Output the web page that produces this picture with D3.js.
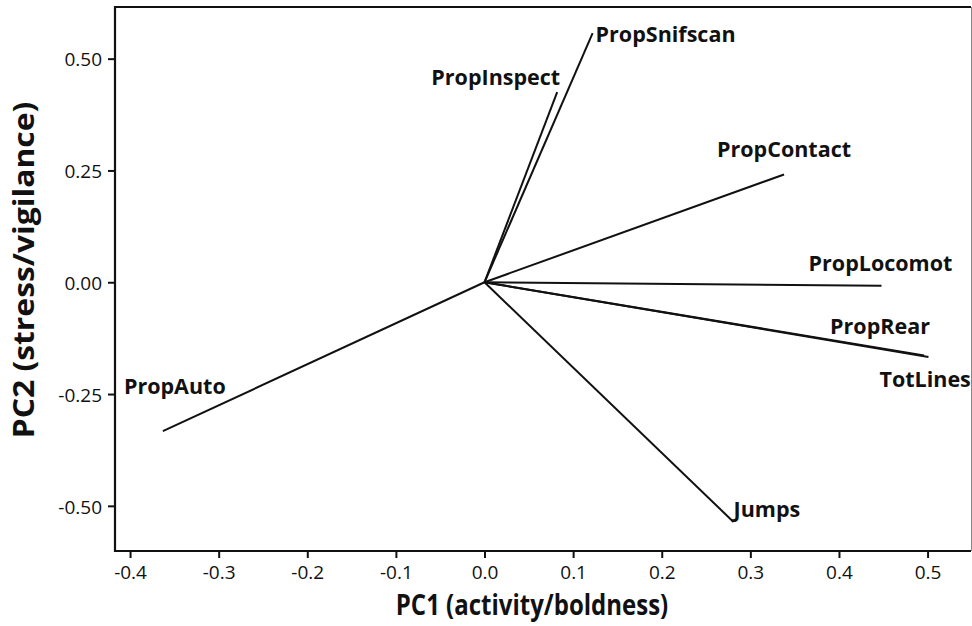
<!DOCTYPE html>
<html>
<head>
<meta charset="utf-8">
<script src="https://cdn.jsdelivr.net/npm/d3@7"></script>
<style>
  html, body { margin: 0; padding: 0; background: #fff; }
  svg { display: block; }
  .tick text { font-family: "Open Sans", sans-serif; fill: #111; }
  .lbl { font-family: "Open Sans", sans-serif; font-weight: 700; fill: #111; }
  .ttl { font-family: "Open Sans", sans-serif; font-weight: 700; fill: #111; }
</style>
</head>
<body>
<script>
// PCA loading vectors: variable names and their PC1 / PC2 loadings
const variables = ["PropSnifscan", "PropInspect", "PropContact", "PropLocomot", "PropRear", "TotLines", "PropAuto", "Jumps"];
const pc1 = [0.122, 0.082, 0.338, 0.448, 0.496, 0.501, -0.363, 0.281];
const pc2 = [0.557, 0.425, 0.241, -0.008, -0.164, -0.167, -0.333, -0.536];

// axis tick values
const xTicks = [-0.4, -0.3, -0.2, -0.1, 0.0, 0.1, 0.2, 0.3, 0.4, 0.5];
const yTicks = [0.50, 0.25, 0.00, -0.25, -0.50];

const W = 972, H = 626;
const plotL = 115, plotR = 971, plotT = 7, plotB = 551;

const svg = d3.select("body").append("svg").attr("width", W).attr("height", H);

const x = d3.scaleLinear().domain([-0.417, 0.549]).range([plotL, plotR]);
const y = d3.scaleLinear().domain([-0.601, 0.6155]).range([plotB, plotT]);

// plain hyphen for negative numbers
const fmt = spec => d => d3.format(spec)(d).replace("\u2212", "-");

// label placement relative to each vector tip (pixels)
const labelPlace = {
  PropSnifscan: { anchor: "start",  dx: 3,   dy: 9 },
  PropInspect:  { anchor: "end",    dx: 3,   dy: -7 },
  PropContact:  { anchor: "middle", dx: 0,   dy: -17 },
  PropLocomot:  { anchor: "middle", dx: -1,  dy: -15 },
  PropRear:     { anchor: "middle", dx: -44, dy: -22 },
  TotLines:     { anchor: "start",  dx: -49, dy: 30 },
  PropAuto:     { anchor: "middle", dx: 12,  dy: -37 },
  Jumps:        { anchor: "start",  dx: 0,   dy: -5 }
};

// frame: heavy left/top/bottom, light right edge
svg.append("path")
  .attr("d", `M${plotR},${plotT}H${plotL}V${plotB}H${plotR}`)
  .attr("fill", "none").attr("stroke", "#111").attr("stroke-width", 2.2);
svg.append("line")
  .attr("x1", plotR + 0.5).attr("x2", plotR + 0.5).attr("y1", plotT).attr("y2", plotB)
  .attr("stroke", "#888").attr("stroke-width", 1);

// x axis
const xAxis = svg.append("g")
  .attr("transform", `translate(0,${plotB})`)
  .call(d3.axisBottom(x).tickValues(xTicks).tickFormat(fmt(".1f")).tickSize(7).tickSizeOuter(0));
xAxis.select(".domain").remove();
xAxis.selectAll(".tick line").attr("stroke", "#111").attr("stroke-width", 2);
xAxis.selectAll(".tick text").attr("font-size", 19).attr("y", 15).attr("dy", "0.71em");

// y axis
const yAxis = svg.append("g")
  .attr("transform", `translate(${plotL},0)`)
  .call(d3.axisLeft(y).tickValues(yTicks).tickFormat(fmt(".2f")).tickSize(7).tickSizeOuter(0));
yAxis.select(".domain").remove();
yAxis.selectAll(".tick line").attr("stroke", "#111").attr("stroke-width", 2);
yAxis.selectAll(".tick text").attr("font-size", 19).attr("x", -13).attr("dy", "0.38em");

// loading vectors
const data = variables.map((v, i) => ({ name: v, a: pc1[i], b: pc2[i] }));

svg.append("g").selectAll("line")
  .data(data)
  .join("line")
  .attr("x1", x(0)).attr("y1", y(0))
  .attr("x2", d => x(d.a)).attr("y2", d => y(d.b))
  .attr("stroke", "#111").attr("stroke-width", 2);

svg.append("g").selectAll("text")
  .data(data)
  .join("text")
  .attr("class", "lbl")
  .attr("font-size", 21.5)
  .attr("text-anchor", d => labelPlace[d.name].anchor)
  .attr("x", d => x(d.a) + labelPlace[d.name].dx)
  .attr("y", d => y(d.b) + labelPlace[d.name].dy)
  .text(d => d.name);

// axis titles
svg.append("text").attr("class", "ttl")
  .attr("font-size", 24)
  .attr("text-anchor", "middle")
  .attr("transform", "translate(532,615) scale(1,1.2)")
  .text("PC1 (activity/boldness)");

svg.append("text").attr("class", "ttl")
  .attr("font-size", 27)
  .attr("text-anchor", "middle")
  .attr("transform", "translate(34,270) rotate(-90) scale(1.18,1.05)")
  .text("PC2 (stress/vigilance)");
</script>
</body>
</html>
